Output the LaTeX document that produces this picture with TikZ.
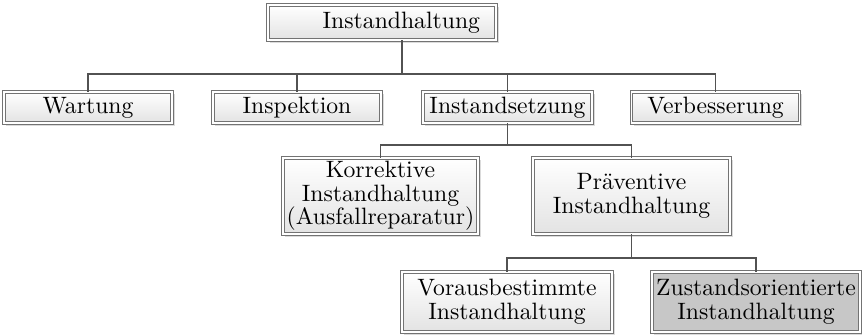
\documentclass[tikz,border=0pt]{standalone}
\usetikzlibrary{calc,backgrounds}
\def\pxu{0.4225pt}
\begin{document}
\begin{tikzpicture}[x=\pxu, y=\pxu,
  box/.style={draw=black!55, line width=0.4pt, double=white, double distance=0.7pt,
    inner sep=0pt, align=center, font=\fontsize{10}{10}\selectfont},
  lightbox/.style={box, top color=white, bottom color=black!11},
  darkbox/.style={box, fill=black!22},
  shadowfill/.style={fill=black!14},
  conn/.style={draw=black!68, line width=0.8pt}]
\useasboundingbox (0,0) rectangle (862,-334);
% top
\node[lightbox, minimum width=228*\pxu, minimum height=35*\pxu, text width=196*\pxu, align=right] (top) at (382,-22.5) {Instandhaltung};
% row 2
\node[lightbox, minimum width=168*\pxu, minimum height=31*\pxu] (wart) at (88,-107.5) {Wartung};
\node[lightbox, minimum width=168*\pxu, minimum height=31*\pxu] (insp) at (297,-107.5) {Inspektion};
\node[lightbox, minimum width=169*\pxu, minimum height=31*\pxu] (inst) at (507.5,-107.5) {Instandsetzung};
\node[lightbox, minimum width=168*\pxu, minimum height=31*\pxu] (verb) at (715.5,-107.5) {Verbesserung};
% row 3
\node[lightbox, minimum width=195*\pxu, minimum height=76*\pxu] (korr) at (380.5,-196) {Korrektive\\Instandhaltung\\(Ausfallreparatur)};
\node[lightbox, minimum width=197*\pxu, minimum height=76*\pxu] (prae) at (631.5,-196) {Präventive\\Instandhaltung};
% row 4
\node[lightbox, minimum width=210*\pxu, minimum height=60*\pxu] (vora) at (507,-302) {Vorausbestimmte\\Instandhaltung};
\node[darkbox, minimum width=208*\pxu, minimum height=60*\pxu] (zust) at (756,-302) {Zustandsorientierte\\Instandhaltung};
% shadows
\begin{scope}[on background layer]
  \foreach \n in {top,wart,insp,inst,verb,korr,prae,vora,zust}{
    \fill[shadowfill] ($(\n.south west)+(2.5,-2.5)$) rectangle ($(\n.north east)+(2.5,-2.5)$);
  }
\end{scope}
% connectors
\coordinate (b1) at (402,-74);
\coordinate (b2) at (506.5,-145);
\coordinate (b3) at (631.5,-258);
\draw[conn] (top.south -| b1) -- (b1);
\draw[conn] (wart.north) |- (b1) -| (verb.north);
\draw[conn] (insp.north) -- (insp.north |- b1);
\draw[conn] (inst.north) -- (inst.north |- b1);
\draw[conn] (inst.south) -- (inst.south |- b2);
\draw[conn] (korr.north) |- (b2) -| (prae.north);
\draw[conn] (prae.south) -- (prae.south |- b3);
\draw[conn] (vora.north) |- (b3) -| (zust.north);
\end{tikzpicture}
\end{document}
